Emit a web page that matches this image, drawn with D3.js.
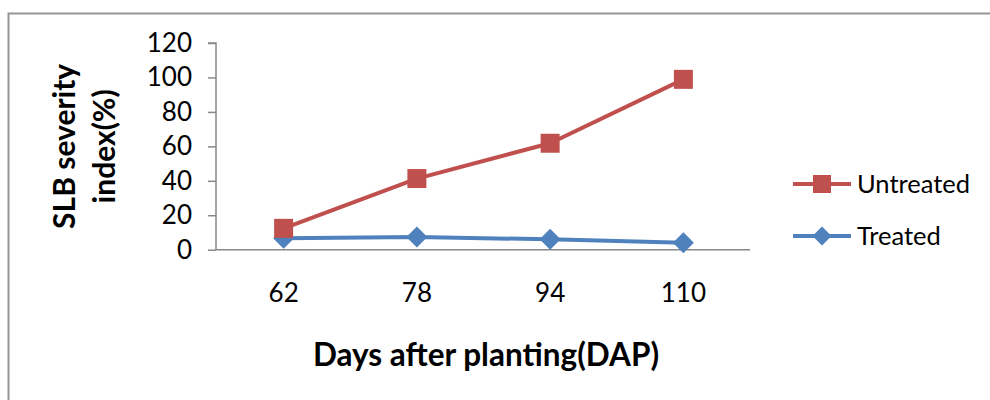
<!DOCTYPE html>
<html>
<head>
<meta charset="utf-8">
<script src="https://cdn.jsdelivr.net/npm/d3@7"></script>
<style>
  html, body { margin: 0; padding: 0; background: #fff; }
  svg { display: block; }
  text { font-family: Lato, "Noto Sans", sans-serif; fill: #000; }
</style>
</head>
<body>
<svg id="chart" width="990" height="400"></svg>
<script>
// Days after planting
const categories = ["62", "78", "94", "110"];
// SLB severity index (%) per series
const untreated = [12.4, 41.3, 61.8, 98.9];
const treated = [6.6, 7.4, 6.0, 4.1];
const yTicks = [0, 20, 40, 60, 80, 100, 120];

const seriesList = [
  { name: "Treated", values: treated, color: "#4F81BD", shape: "diamond" },
  { name: "Untreated", values: untreated, color: "#C0504D", shape: "square" }
];
const legendOrder = ["Untreated", "Treated"];

const svg = d3.select("#chart");

// chart frame (top and left edges)
svg.append("path")
  .attr("d", "M8.5,400 V13.5 H990")
  .attr("fill", "none")
  .attr("stroke", "#959595")
  .attr("stroke-width", 2);

const x = d3.scaleBand().domain(categories).range([217, 750]).paddingInner(0).paddingOuter(0);
const y = d3.scaleLinear().domain([0, 120]).range([249.7, 43]);

// y axis
const yAxis = d3.axisLeft(y).tickValues(yTicks).tickSize(8).tickPadding(16).tickFormat(d3.format("d"));
const gy = svg.append("g").attr("transform", "translate(216,0)").call(yAxis);
gy.select(".domain").attr("stroke", "#888").attr("stroke-width", 1.5).attr("d", `M-8,${y(120)}H0V${y(0)}`);
gy.selectAll(".tick line").attr("stroke", "#888").attr("stroke-width", 1.5);
gy.selectAll(".tick text").attr("font-size", 26).attr("font-family", "Lato, sans-serif").attr("fill", "#000");

// x axis
const xAxis = d3.axisBottom(x).tickSize(0).tickPadding(34);
const gx = svg.append("g").attr("transform", `translate(0,${y(0)})`).call(xAxis);
gx.select(".domain").attr("stroke", "#888").attr("stroke-width", 1.5).attr("d", `M216,0H750`);
gx.selectAll(".tick text").attr("font-size", 26).attr("font-family", "Lato, sans-serif").attr("fill", "#000");

const cx = d => x(d) + x.bandwidth() / 2;

const line = d3.line().x((d, i) => cx(categories[i])).y(d => y(d));

const symbolPath = (shape, size) =>
  shape === "square"
    ? d3.symbol(d3.symbolSquare, size * size)()
    : `M0,${-size / 2}L${size / 2},0L0,${size / 2}L${-size / 2},0Z`;

seriesList.forEach(s => {
  const g = svg.append("g");
  g.append("path")
    .attr("d", line(s.values))
    .attr("fill", "none")
    .attr("stroke", s.color)
    .attr("stroke-width", 4)
    .attr("stroke-linejoin", "round");
  g.selectAll("path.marker")
    .data(s.values)
    .join("path")
    .attr("class", "marker")
    .attr("transform", (d, i) => `translate(${cx(categories[i])},${y(d)})`)
    .attr("d", symbolPath(s.shape, s.shape === "square" ? 19 : 21))
    .attr("fill", s.color);
});

// legend
const legend = svg.append("g").attr("transform", "translate(793,184)");
legendOrder.forEach((name, i) => {
  const s = seriesList.find(d => d.name === name);
  const row = legend.append("g").attr("transform", `translate(0,${i * 52})`);
  row.append("line").attr("x1", 0).attr("x2", 58).attr("y1", 0).attr("y2", 0)
    .attr("stroke", s.color).attr("stroke-width", 4);
  row.append("path")
    .attr("transform", "translate(29,0)")
    .attr("d", symbolPath(s.shape, s.shape === "square" ? 18 : 19))
    .attr("fill", s.color);
  row.append("text").attr("x", 64).attr("y", 9)
    .attr("font-size", 25.5).text(name);
});

// axis titles
svg.append("text")
  .attr("x", 486).attr("y", 366)
  .attr("text-anchor", "middle")
  .attr("font-size", 31.5).attr("font-weight", 700)
  .text("Days after planting(DAP)");

const yt = svg.append("text")
  .attr("transform", `translate(75,${(y(0) + y(120)) / 2}) rotate(-90)`)
  .attr("text-anchor", "middle")
  .attr("font-size", 30).attr("font-weight", 700);
yt.append("tspan").attr("x", 0).attr("y", 0).text("SLB severity");
yt.append("tspan").attr("x", 0).attr("y", 40).text("index(%)");
</script>
</body>
</html>
